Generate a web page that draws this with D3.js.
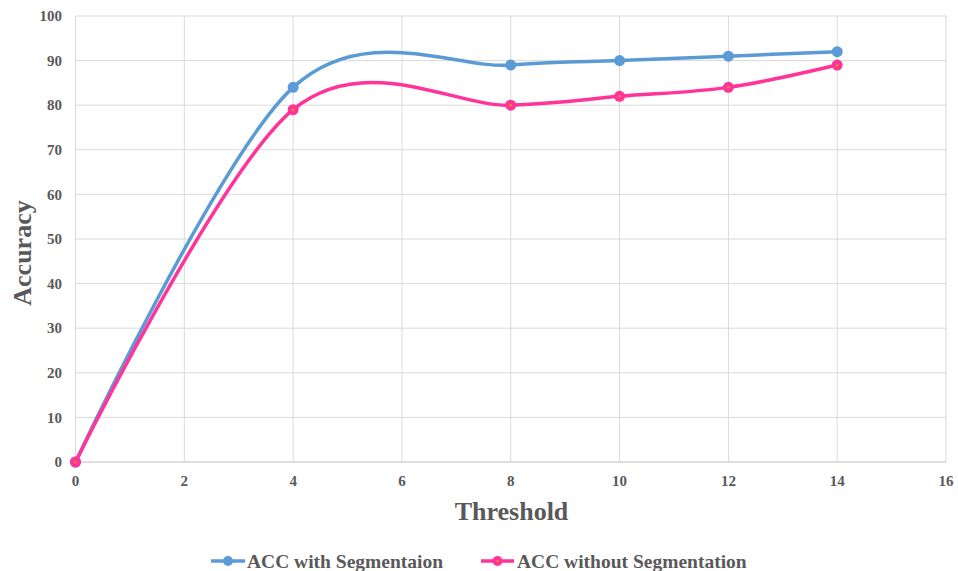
<!DOCTYPE html>
<html><head><meta charset="utf-8">
<script src="https://cdn.jsdelivr.net/npm/d3@7"></script>
<style>body{margin:0;background:#fff}svg{display:block}text{font-family:"Liberation Serif","Times New Roman",serif;font-weight:bold;fill:#595959}</style>
</head><body><svg id="c" width="958" height="571"></svg>
<script>
const thresholds = [0, 4, 8, 10, 12, 14];
const accWith = [0, 84, 89, 90, 91, 92];
const accWithout = [0, 79, 80, 82, 84, 89];
const xTicks = [0, 2, 4, 6, 8, 10, 12, 14, 16];
const yTicks = [0, 10, 20, 30, 40, 50, 60, 70, 80, 90, 100];
const seriesNames = ["ACC with Segmentaion", "ACC without Segmentation"];

const svg = d3.select("#c");
const x = d3.scaleLinear().domain([0, 16]).range([75.5, 946]);
const y = d3.scaleLinear().domain([0, 100]).range([462, 16]);

const g = svg.append("g");
// grid
g.selectAll(".hg").data(yTicks.filter(d => d > 0)).enter().append("line")
  .attr("x1", x(0)).attr("x2", x(16)).attr("y1", d => y(d)).attr("y2", d => y(d))
  .attr("stroke", "#d9d9d9").attr("stroke-width", 1);
g.selectAll(".vg").data(xTicks).enter().append("line")
  .attr("x1", d => x(d)).attr("x2", d => x(d)).attr("y1", y(0)).attr("y2", y(100))
  .attr("stroke", "#d9d9d9").attr("stroke-width", 1);
g.append("line").attr("x1", x(0)).attr("x2", x(16)).attr("y1", y(0)).attr("y2", y(0))
  .attr("stroke", "#bfbfbf").attr("stroke-width", 1.2);

// tick labels
g.selectAll(".yt").data(yTicks).enter().append("text")
  .attr("x", 62).attr("y", d => y(d)).attr("dy", "0.35em").attr("text-anchor", "end")
  .attr("font-size", 15).text(d => d);
g.selectAll(".xt").data(xTicks).enter().append("text")
  .attr("x", d => x(d)).attr("y", 486).attr("text-anchor", "middle")
  .attr("font-size", 15).text(d => d);

// axis titles
svg.append("text").attr("x", 511.5).attr("y", 520).attr("text-anchor", "middle")
  .attr("font-size", 26).text("Threshold");
svg.append("text").attr("transform", "translate(31,253) rotate(-90)").attr("text-anchor", "middle")
  .attr("font-size", 26).text("Accuracy");

const colors = ["#5B9BD5", "#FF3399"];
const line = d3.line().x(d => x(d[0])).y(d => y(d[1])).curve(d3.curveCardinal.tension(0));
[accWith, accWithout].forEach((vals, i) => {
  const pts = thresholds.map((t, j) => [t, vals[j]]);
  g.append("path").attr("d", line(pts)).attr("fill", "none")
    .attr("stroke", colors[i]).attr("stroke-width", 3.5);
});
[accWith, accWithout].forEach((vals, i) => {
  const pts = thresholds.map((t, j) => [t, vals[j]]);
  g.selectAll(".m" + i).data(pts).enter().append("circle")
    .attr("cx", d => x(d[0])).attr("cy", d => y(d[1])).attr("r", 5.5).attr("fill", colors[i]);
  if (i === 1) {
    g.selectAll(".mc" + i).data(pts).enter().append("circle")
      .attr("cx", d => x(d[0])).attr("cy", d => y(d[1])).attr("r", 1.5).attr("fill", "#ED7D31");
  }
});

// legend
const leg = [{x0: 211, x1: 245, tx: 247}, {x0: 481, x1: 514, tx: 517}];
leg.forEach((l, i) => {
  const ly = 561;
  svg.append("line").attr("x1", l.x0).attr("x2", l.x1).attr("y1", ly).attr("y2", ly)
    .attr("stroke", colors[i]).attr("stroke-width", 3.5);
  svg.append("circle").attr("cx", (l.x0 + l.x1) / 2).attr("cy", ly).attr("r", 5).attr("fill", colors[i]);
  if (i === 1) svg.append("circle").attr("cx", (l.x0 + l.x1) / 2).attr("cy", ly).attr("r", 1.3).attr("fill", "#ED7D31");
  svg.append("text").attr("x", l.tx).attr("y", ly).attr("dy", "0.35em").attr("font-size", 19.5).text(seriesNames[i]);
});
</script></body></html>
